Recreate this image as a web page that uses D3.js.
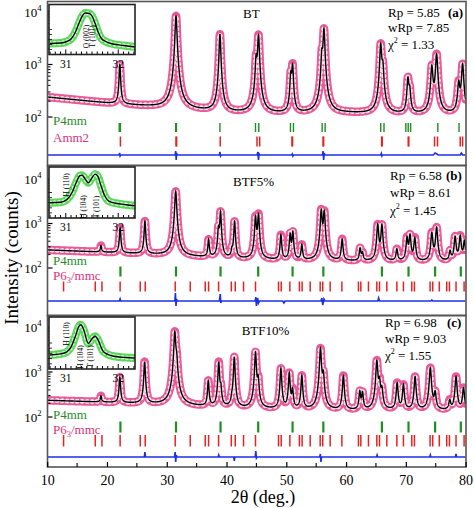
<!DOCTYPE html>
<html><head><meta charset="utf-8">
<script src="https://cdn.jsdelivr.net/npm/d3@7"></script>
<style>
body{margin:0;background:#fff}
svg{display:block}
text{font-family:"Liberation Serif","Times New Roman",Times,serif;fill:#000}
</style></head>
<body><svg id="c" width="474" height="508"></svg>
<script>
// ---------------- DATA ----------------
const sampleNames = ["BT", "BTF5%", "BTF10%"];
const panelTags = ["(a)", "(b)", "(c)"];
const rpValues = ["5.85", "6.58", "6.98"];
const wrpValues = ["7.85", "8.61", "9.03"];
const chiValues = ["1.33", "1.45", "1.55"];
const secondPhase = ["Amm2", "P6|3|/mmc", "P6|3|/mmc"];
const xTickValues = [10, 20, 30, 40, 50, 60, 70, 80];
const yTickExponents = [2, 3, 4];
const insetTickLabels = [31, 32];

// background levels [2θ, counts]
const bgA = [[10,240],[20,185],[30,150],[40,120],[50,115],[60,118],[70,112],[80,112]];
const bgB = [[10,255],[20,225],[30,195],[40,162],[50,148],[60,142],[70,138],[80,138]];
const bgC = [[10,235],[20,212],[30,188],[40,158],[50,143],[60,138],[70,138],[80,138]];

// reflections [2θ, height (counts), half-width (deg)]
const peaksA = [
 [22.15,820,0.12],[31.55,8300,0.15],[38.9,3650,0.13],
 [44.95,1100,0.13],[45.35,3500,0.14],[50.75,500,0.13],[51.05,850,0.13],
 [55.95,1300,0.13],[56.3,4600,0.14],[65.8,2300,0.15],[66.15,740,0.15],
 [70.35,420,0.15],[70.65,200,0.15],[74.35,800,0.17],[75.15,1450,0.17],
 [78.85,330,0.17],[79.5,900,0.17]];
const peaksB = [
 [19.0,90,0.12],[22.2,580,0.12],[26.35,930,0.12],[31.5,5100,0.15],
 [37.0,260,0.12],[38.65,550,0.12],[39.0,1650,0.12],[40.9,70,0.12],[41.35,950,0.12],
 [44.85,1250,0.13],[45.35,1450,0.13],[49.1,400,0.13],[50.65,420,0.13],[51.1,480,0.13],
 [52.6,180,0.13],[55.85,1850,0.14],[56.35,1700,0.14],[59.35,300,0.14],
 [62.35,130,0.14],[62.75,70,0.14],[65.3,800,0.15],[66.0,780,0.15],[68.5,120,0.15],
 [70.2,330,0.15],[70.7,400,0.15],[71.5,330,0.15],[74.35,470,0.16],[75.15,670,0.16],
 [77.4,90,0.16],[78.25,360,0.16],[79.1,380,0.16],[79.8,260,0.16]];
const peaksC = [
 [19.0,80,0.12],[22.15,560,0.12],[26.3,1500,0.12],[31.35,7600,0.14],[31.65,1400,0.14],
 [36.95,470,0.12],[38.7,1500,0.12],[39.05,250,0.12],[40.9,50,0.12],[41.3,2000,0.12],
 [44.85,2600,0.13],[45.3,500,0.13],[49.1,1050,0.13],[50.5,800,0.13],[51.05,250,0.13],
 [52.6,690,0.13],[55.72,3200,0.14],[56.2,700,0.14],[59.55,690,0.14],
 [62.3,220,0.14],[62.75,200,0.14],[65.15,1650,0.15],[65.6,450,0.15],[66.0,250,0.15],
 [68.55,430,0.15],[69.6,380,0.15],[71.55,650,0.15],[74.1,1100,0.16],[74.9,200,0.16],
 [77.35,90,0.16],[78.4,650,0.16],[79.65,300,0.16]];

// difference curves (obs - calc) [2θ, counts]
const diffA = [[10,0],[22.05,0],[22.12,500],[22.2,-250],[22.3,0],[31.4,0],[31.5,1000],[31.58,-1250],[31.66,500],[31.75,0],
 [38.8,0],[38.9,750],[39.0,-250],[39.1,0],[45.1,0],[45.25,750],[45.35,-1250],[45.45,250],[45.55,0],
 [50.9,0],[51.0,250],[51.1,-250],[51.2,0],[56.05,0],[56.15,1000],[56.25,-1250],[56.35,500],[56.45,0],
 [65.8,0],[65.9,375],[66.0,-250],[66.1,0],[74.6,0],[74.9,500],[75.2,250],[75.4,0],[79.1,0],[79.3,500],[79.5,0],[80,0]];
const diffB = [[10,0],[22.1,0],[22.2,500],[22.3,0],[31.35,0],[31.45,2000],[31.55,-1250],[31.65,500],[31.75,0],
 [38.8,0],[38.95,1750],[39.05,-500],[39.15,0],[44.8,0],[44.9,1000],[45.0,-1250],[45.2,750],[45.35,-500],[45.5,0],
 [49.4,0],[49.6,-500],[49.8,0],[55.8,0],[55.95,750],[56.1,-1000],[56.3,500],[56.45,0],[65.3,0],[65.45,750],[65.6,0],
 [74.2,0],[74.35,250],[74.5,0],[80,0]];
const diffC = [[10,0],[26.25,0],[26.35,1250],[26.45,0],[31.3,0],[31.4,1250],[31.5,-1250],[31.6,500],[31.7,0],
 [38.6,0],[38.7,500],[38.8,0],[41.2,0],[41.3,-1000],[41.4,0],[44.8,0],[44.9,1500],[45.0,-250],[45.1,0],
 [55.6,0],[55.7,750],[55.8,-1250],[55.9,0],[65.1,0],[65.2,500],[65.3,0],[74.0,0],[74.1,500],[74.2,0],
 [78.3,0],[78.4,750],[78.5,0],[80,0]];

// Bragg positions
const p4mmA = [22.05,22.25,31.5,31.62,38.9,44.85,45.4,50.7,51.2,56.0,56.5,65.8,66.35,70.0,70.4,70.8,75.35,78.9];
const amm2A = [22.25,31.55,31.65,38.95,45.1,45.55,50.95,51.05,56.15,56.25,65.95,66.05,70.4,70.5,74.8,75.3,79.1,79.5];
const p4mmBC = [22.25,31.55,39.0,45.3,51.05,56.2,66.0,70.45,74.9,79.2];
const p63BC = [12.74,18.04,19.16,22.2,25.57,26.4,31.42,33.93,36.44,37.0,38.67,40.8,41.46,42.85,44.85,48.7,49.15,50.6,
 52.2,52.65,54.0,55.67,56.1,57.34,59.3,62.07,62.47,63.75,65.15,65.6,66.82,68.5,69.6,71.0,71.44,74.06,74.5,75.6,
 76.84,77.3,78.4,79.75];

// inset (zoom of the 31-32° region), normalised intensity
const insetA = [[30.70,0.22],[30.90,0.23],[31.02,0.26],[31.10,0.31],[31.18,0.44],[31.25,0.62],[31.32,0.78],[31.37,0.83],
 [31.45,0.82],[31.50,0.77],[31.56,0.62],[31.62,0.44],[31.68,0.32],[31.76,0.26],[31.90,0.21],[32.10,0.18],[32.32,0.15]];
const insetB = [[30.70,0.30],[30.90,0.31],[31.02,0.36],[31.12,0.50],[31.20,0.70],[31.27,0.83],[31.31,0.84],[31.36,0.78],
 [31.43,0.69],[31.50,0.79],[31.56,0.86],[31.61,0.82],[31.67,0.64],[31.74,0.44],[31.82,0.33],[31.95,0.29],[32.15,0.26],[32.32,0.24]];
const insetC = [[30.70,0.27],[30.90,0.29],[31.02,0.33],[31.10,0.42],[31.18,0.62],[31.25,0.82],[31.29,0.85],[31.34,0.76],
 [31.43,0.49],[31.50,0.58],[31.56,0.63],[31.62,0.55],[31.70,0.36],[31.80,0.28],[31.95,0.24],[32.15,0.22],[32.32,0.21]];
const insetLabelsA = ["O (002)", "T (101)"];
const insetLabelsB = ["H (110)", "H (104)", "T (101)"];
const insetLabelsC = ["H (110)", "H (104)", "T (101)"];

// ---------------- LAYOUT ----------------
const C = {obs:"#e85a99", obsIn:"#fbe0ec", green:"#1f8f1f", red:"#e82222", blue:"#1c2fe6",
  gTxt:"#2a8a2a", pTxt:"#e0307a", frame:"#555", inObs:"#5ad85a", inIn:"#cdf5cd"};
const FS = 13;
const L = [
 {top:1.5,bottom:165.5,y4:12,dec:52.5,gy:[123,132],ry:[136.5,146.5],dy:155,p1y:120.5,p2y:138,
  name:[243,13.3],rpX:388,rpY:[12.5,27.5,44.5],tagX:448,inset:[4.5,54.5],
  ilab:[[86.5,36.5],[92.5,36.5]]},
 {top:165.5,bottom:315.5,y4:179,dec:44.5,gy:[266.5,276.5],ry:[281.5,291.5],dy:301,p1y:260.5,p2y:275.5,
  name:[233,181.7],rpX:390,rpY:[175.5,192.7,210.5],tagX:446,inset:[167,218],
  ilab:[[66,185],[83.5,207],[96.5,207]]},
 {top:315.5,bottom:467,y4:327,dec:45,gy:[421.5,432.5],ry:[435,446.5],dy:457,p1y:414.5,p2y:429.5,
  name:[241.7,330],rpX:385,rpY:[322.5,338.5,355.5],tagX:447,inset:[317,369],
  ilab:[[66.7,334],[80,357],[90,356.5]]}
];
const panels = [
 {bg:bgA, peaks:peaksA, diff:diffA, g:p4mmA, r:amm2A, ins:insetA, il:insetLabelsA, gw:1.4},
 {bg:bgB, peaks:peaksB, diff:diffB, g:p4mmBC, r:p63BC, ins:insetB, il:insetLabelsB, gw:2.2},
 {bg:bgC, peaks:peaksC, diff:diffC, g:p4mmBC, r:p63BC, ins:insetC, il:insetLabelsC, gw:2.2}
];

const svg = d3.select("#c");
const x = d3.scaleLinear().domain([10,80]).range([47.2,465.6]);
const X0 = 47.5, X1 = 466;

function profile(bg, peaks){
  const xs = d3.range(10, 80.0001, 0.02).concat(peaks.map(p=>p[0])).sort((a,b)=>a-b);
  const bgLog = d3.scaleLinear().domain(bg.map(d=>d[0])).range(bg.map(d=>Math.log10(d[1])));
  return xs.map(t=>{
    let v = Math.pow(10, bgLog(t));
    for(const [p,h,w] of peaks){ const u=(t-p)/w; v += h/(1+u*u); }
    return [t,v];
  });
}

function band(g, d, w1, w2, c1, c2, gap){
  g.append("path").attr("d",d).attr("fill","none").attr("stroke",c1).attr("stroke-width",w1)
    .attr("stroke-linejoin","round").attr("stroke-linecap","round");
  g.append("path").attr("d",d).attr("fill","none").attr("stroke",c2).attr("stroke-width",w2)
    .attr("stroke-linecap","round").attr("stroke-dasharray","0 "+gap);
}

function subText(sel, s, fs){
  const parts = s.split("|");
  sel.append("tspan").text(parts[0]);
  if(parts.length>1){
    sel.append("tspan").attr("font-size",fs*0.65).attr("dy",3).text(parts[1]);
    sel.append("tspan").attr("dy",-3).text(parts[2]);
  }
}

panels.forEach((P,i)=>{
  const lay = L[i];
  const lo = Math.pow(10, 4-(lay.bottom-lay.y4)/lay.dec);
  const hi = Math.pow(10, 4+(lay.y4-lay.top)/lay.dec);
  const y = d3.scaleLog().domain([lo,hi]).range([lay.bottom, lay.top]);
  const clipId = "clip"+i;
  svg.append("clipPath").attr("id",clipId).append("rect")
    .attr("x",X0).attr("y",lay.top).attr("width",X1-X0).attr("height",lay.bottom-lay.top);
  const g = svg.append("g").attr("clip-path",`url(#${clipId})`);

  const prof = profile(P.bg, P.peaks);
  const line = d3.line().x(d=>x(d[0])).y(d=>y(d[1]));
  const dpath = line(prof);
  band(g, dpath, 8.5, 5, C.obs, C.obsIn, 5);
  g.append("path").attr("d",dpath).attr("fill","none").attr("stroke","#000").attr("stroke-width",1.4);

  // Bragg ticks
  g.selectAll(null).data(P.g).join("line")
    .attr("x1",d=>x(d)).attr("x2",d=>x(d)).attr("y1",lay.gy[0]).attr("y2",lay.gy[1])
    .attr("stroke",C.green).attr("stroke-width",P.gw);
  g.selectAll(null).data(P.r).join("line")
    .attr("x1",d=>x(d)).attr("x2",d=>x(d)).attr("y1",lay.ry[0]).attr("y2",lay.ry[1])
    .attr("stroke",C.red).attr("stroke-width",1.5);

  // difference curve
  const yd = d3.scaleLinear().domain([-2500,2500]).range([lay.dy+10, lay.dy-10]);
  g.append("path").attr("d", d3.line().x(d=>x(d[0])).y(d=>yd(d[1]))(P.diff))
    .attr("fill","none").attr("stroke",C.blue).attr("stroke-width",1.6);

  // y ticks (log, inward)
  const major = yTickExponents.map(e=>Math.pow(10,e));
  const minor = [];
  [2,3].forEach(e=>{ for(let m=2;m<=9;m++) minor.push(m*Math.pow(10,e)); });
  svg.selectAll(null).data(major).join("line")
    .attr("x1",X0).attr("x2",X0+5).attr("y1",d=>y(d)).attr("y2",d=>y(d)).attr("stroke","#000").attr("stroke-width",1.2);
  svg.selectAll(null).data(minor).join("line")
    .attr("x1",X0).attr("x2",X0+3).attr("y1",d=>y(d)).attr("y2",d=>y(d)).attr("stroke","#000").attr("stroke-width",1);
  yTickExponents.forEach(e=>{
    const t = svg.append("text").attr("x",41.5).attr("y",y(Math.pow(10,e))+4.5)
      .attr("text-anchor","end").attr("font-size",13);
    t.append("tspan").text("10");
    t.append("tspan").attr("font-size",8.5).attr("dy",-6).text(e);
  });

  // frame
  svg.append("rect").attr("x",X0).attr("y",lay.top).attr("width",X1-X0).attr("height",lay.bottom-lay.top)
    .attr("fill","none").attr("stroke",C.frame).attr("stroke-width",1.6);

  // phase labels
  svg.append("text").attr("x",53).attr("y",lay.p1y+4.3).attr("font-size",FS).style("fill",C.gTxt).text("P4mm");
  subText(svg.append("text").attr("x",53).attr("y",lay.p2y+4.3).attr("font-size",FS).style("fill",C.pTxt),
    secondPhase[i], FS);

  // sample name & statistics
  svg.append("text").attr("x",lay.name[0]).attr("y",lay.name[1]+4.5).attr("font-size",FS).text(sampleNames[i]);
  svg.append("text").attr("x",lay.rpX).attr("y",lay.rpY[0]+4.5).attr("font-size",FS).text("Rp = "+rpValues[i]);
  svg.append("text").attr("x",lay.tagX).attr("y",lay.rpY[0]+4.5).attr("font-size",FS).attr("font-weight","bold").text(panelTags[i]);
  svg.append("text").attr("x",lay.rpX).attr("y",lay.rpY[1]+4.5).attr("font-size",FS).text("wRp = "+wrpValues[i]);
  const chi = svg.append("text").attr("x",lay.rpX).attr("y",lay.rpY[2]+4.5).attr("font-size",FS);
  chi.append("tspan").text("χ");
  chi.append("tspan").attr("font-size",8).attr("dy",-6).text("2");
  chi.append("tspan").attr("dy",6).text(" = "+chiValues[i]);

  // inset
  const ix = d3.scaleLinear().domain([30.68,32.32]).range([49,135]);
  const iy = d3.scaleLinear().domain([0,1]).range([lay.inset[1], lay.inset[0]]);
  const ig = svg.append("g");
  ig.append("rect").attr("x",49).attr("y",lay.inset[0]).attr("width",86).attr("height",lay.inset[1]-lay.inset[0])
    .attr("fill","#fff");
  const icid = "iclip"+i;
  svg.append("clipPath").attr("id",icid).append("rect").attr("x",49).attr("y",lay.inset[0])
    .attr("width",86).attr("height",lay.inset[1]-lay.inset[0]);
  const igc = ig.append("g").attr("clip-path",`url(#${icid})`);
  const iline = d3.line().x(d=>ix(d[0])).y(d=>iy(d[1])).curve(d3.curveMonotoneX);
  const ip = iline(P.ins);
  band(igc, ip, 8, 4.5, C.inObs, C.inIn, 4.5);
  igc.append("path").attr("d",ip).attr("fill","none").attr("stroke","#000").attr("stroke-width",1.4);
  const iticks = d3.range(30.7, 32.31, 0.1);
  ig.selectAll(null).data(iticks).join("line")
    .attr("x1",d=>ix(d)).attr("x2",d=>ix(d)).attr("y1",lay.inset[1]).attr("y2",d=>lay.inset[1]-(Math.abs(d-Math.round(d))<0.01?5:3))
    .attr("stroke","#000").attr("stroke-width",1);
  ig.selectAll(null).data([0.1,0.2,0.3,0.4,0.5]).join("line")
    .attr("x1",49).attr("x2",52).attr("y1",d=>iy(d)).attr("y2",d=>iy(d)).attr("stroke","#000").attr("stroke-width",0.8);
  ig.append("rect").attr("x",49).attr("y",lay.inset[0]).attr("width",86).attr("height",lay.inset[1]-lay.inset[0])
    .attr("fill","none").attr("stroke","#222").attr("stroke-width",1.6);
  ig.selectAll(null).data(insetTickLabels).join("text")
    .attr("x",d=>ix(d)).attr("y",lay.inset[1]+13).attr("text-anchor","middle").attr("font-size",11.5).text(d=>d);
  P.il.forEach((s,k)=>{
    const [lx,ly] = lay.ilab[k];
    ig.append("text").attr("transform",`translate(${lx},${ly}) rotate(-90)`)
      .attr("text-anchor","middle").attr("dominant-baseline","central").attr("font-size",7.5).text(s);
  });
});

// bottom x axis
const xb = 467;
svg.append("g").attr("transform",`translate(0,${xb})`)
  .call(d3.axisBottom(x).tickValues(xTickValues).tickSizeInner(-5).tickSizeOuter(0).tickPadding(8).tickFormat(d3.format("d")))
  .call(g=>{ g.attr("font-family",null).attr("font-size",null);
    g.select(".domain").remove();
    g.selectAll("text").attr("font-size",14);
    g.selectAll("line").attr("stroke","#000").attr("stroke-width",1.2); });
svg.selectAll(null).data(d3.range(15,80,10)).join("line")
  .attr("x1",d=>x(d)).attr("x2",d=>x(d)).attr("y1",xb).attr("y2",xb-4).attr("stroke","#000").attr("stroke-width",1.1);

// axis titles
svg.append("text").attr("x",263).attr("y",503).attr("text-anchor","middle").attr("font-size",18).text("2θ (deg.)");
svg.append("text").attr("transform","translate(18,258) rotate(-90)").attr("text-anchor","middle")
  .attr("font-size",19).text("Intensity (counts)");
</script></body></html>
